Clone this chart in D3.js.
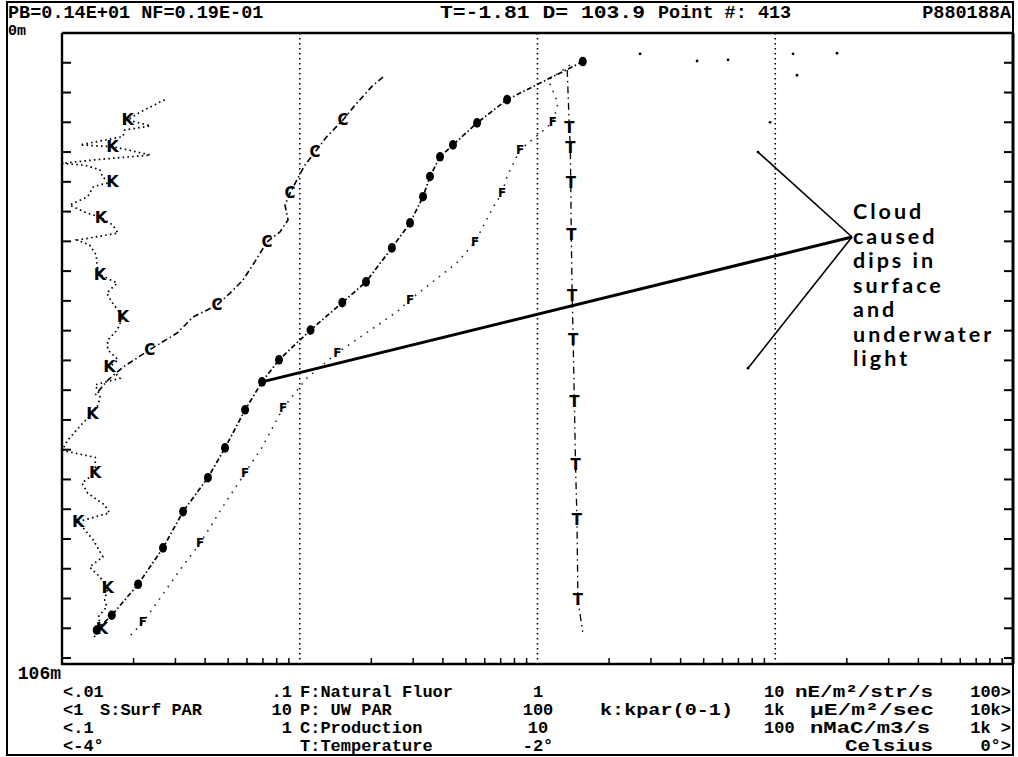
<!DOCTYPE html>
<html>
<head>
<meta charset="utf-8">
<script src="https://cdn.jsdelivr.net/npm/d3@7"></script>
<style>
  body { margin: 0; background: #fff; }
  svg { display: block; }
  .mono { font-family: "Liberation Mono", "DejaVu Sans Mono", monospace; font-weight: bold; fill: #000; }
  .note { font-family: Lato, "Noto Sans", sans-serif; font-weight: 700; fill: #000; }
  .mark { font-family: "DejaVu Sans", sans-serif; font-weight: bold; fill: #000; }
</style>
</head>
<body>
<svg id="chart" width="1018" height="757"></svg>
<script>
// ---- profile data (depth in m) ----
// P: underwater PAR, µE/m²/s
const pDepth = [4.8, 11.2, 15.1, 18.8, 20.8, 24.1, 27.5, 31.9, 36.1, 41.8, 45.3, 49.9, 54.9, 58.6, 63.3, 69.7, 74.7, 80.4, 86.5, 92.6, 97.8, 100.3];
const pPar   = [155, 74.5, 55.7, 44.1, 38.9, 35.3, 33.0, 29.1, 24.4, 19.0, 15.1, 11.1, 8.18, 6.94, 5.89, 4.85, 4.11, 3.23, 2.66, 2.09, 1.62, 1.40];

// F: natural fluorescence, nE/m²/str/s
const fDepth = [5.4, 7.9, 11.8, 15.0, 17.2, 19.6, 24.1, 26.9, 29.3, 35.1, 38.6, 44.8, 46.8, 50.3, 53.7, 58.0, 63.0, 69.6, 73.9, 79.0, 85.7, 89.7, 99.0, 101.6];
const fNat   = [1.37, 1.11, 1.22, 1.16, 1.00, 0.844, 0.745, 0.709, 0.650, 0.546, 0.458, 0.291, 0.257, 0.192, 0.144, 0.107, 0.0851, 0.0694, 0.0589, 0.0485, 0.0381, 0.0320, 0.0219, 0.019];
const fMarkDepth = [15.0, 19.6, 26.9, 35.1, 44.8, 53.7, 63.0, 73.9, 85.7, 99.0];

// C: production, nMaC/m³/s
const cDepth = [7.4, 8.8, 12.1, 14.6, 17.4, 20.0, 22.2, 24.3, 26.9, 28.9, 31.4, 33.4, 35.1, 38.4, 41.5, 43.7, 45.7, 47.7, 50.4, 53.2, 56.1, 58.3, 60.8];
const cProd  = [2.24, 2.03, 1.71, 1.52, 1.30, 1.16, 1.05, 0.984, 0.910, 0.867, 0.893, 0.826, 0.728, 0.648, 0.577, 0.509, 0.449, 0.356, 0.305, 0.234, 0.181, 0.156, 0.138];
const cMarkDepth = [14.6, 20.0, 26.9, 35.1, 45.7, 53.2];

// K: kpar (0-1)
const kDepth = [11.2, 13.3, 14.6, 15.6, 16.3, 17.4, 18.8, 19.1, 19.6, 20.5, 21.3, 21.9, 22.2, 23.0, 24.3, 25.0, 25.8, 27.5, 28.9, 30.1, 31.0, 32.2, 33.6, 34.8, 35.6, 37.3, 39.3, 40.6, 42.0, 43.7, 45.3, 47.7, 49.9, 51.6, 53.2, 54.9, 56.1, 58.0, 59.1, 61.1, 62.5, 63.9, 65.5, 68.4, 70.1, 71.3, 73.9, 75.6, 77.3, 79.3, 80.6, 82.1, 85.2, 88.0, 89.7, 91.4, 93.2, 95.2, 96.4, 98.1, 100.0, 101.6];
const kPar   = [0.108, 0.082, 0.069, 0.093, 0.066, 0.064, 0.019, 0.053, 0.068, 0.093, 0.035, 0.000, 0.024, 0.040, 0.043, 0.053, 0.033, 0.027, 0.008, 0.024, 0.041, 0.053, 0.059, 0.016, 0.029, 0.036, 0.037, 0.040, 0.058, 0.047, 0.053, 0.064, 0.058, 0.048, 0.048, 0.059, 0.050, 0.061, 0.035, 0.040, 0.038, 0.032, 0.022, 0.006, 0.000, 0.035, 0.035, 0.021, 0.027, 0.045, 0.050, 0.017, 0.033, 0.043, 0.029, 0.040, 0.048, 0.045, 0.047, 0.038, 0.042, 0.033];
const kMarkDepth = [14.6, 19.1, 25.0, 31.0, 40.6, 47.7, 56.1, 63.9, 73.9, 82.1, 93.2, 100.0];

// T: temperature, °C
const tDepth = [6.2, 16.0, 19.3, 25.2, 33.9, 44.2, 51.6, 62.0, 72.5, 81.8, 95.2, 100.6];
const tCel   = [-1.875, -1.866, -1.862, -1.860, -1.858, -1.854, -1.850, -1.845, -1.840, -1.834, -1.830, -1.81];
const tMarkDepth = [16.0, 19.3, 25.2, 33.9, 44.2, 51.6, 62.0, 72.5, 81.8, 95.2];

// S: surface PAR samples, µE/m²/s
const sDepth = [3.4, 3.5, 3.5, 4.5, 4.7, 7.1, 15.0, 20.0, 56.3];
const sPar   = [1819, 1188, 270, 633, 469, 1234, 951, 846, 768];

// depth ticks and scale labels
const depthTicks = [5, 10, 15, 20, 25, 30, 35, 40, 45, 50, 55, 60, 65, 70, 75, 80, 85, 90, 95, 100, 105];
const depthLabels = ["0m", "106m"];
const fluorLabels = ["<.01", ".1", "1", "10", "100>"];
const parLabels   = ["<1", "10", "100", "1k", "10k>"];
const prodLabels  = ["<.1", "1", "10", "100", "1k >"];
const tempLabels  = ["<-4°", "", "-2°", "", "0°>"];
const seriesNames = ["F:Natural Fluor", "P: UW PAR", "C:Production", "T:Temperature"];
const unitNames   = ["nE/m²/str/s", "µE/m²/sec", "nMaC/m3/s", "Celsius"];
const surfName = "S:Surf PAR";
const kName = "k:kpar(0-1)";
const header = ["PB=0.14E+01 NF=0.19E-01", "T=-1.81 D= 103.9", "Point #: 413", "P880188A"];
const noteLines = ["Cloud", "caused", "dips in", "surface", "and", "underwater", "light"];

// ---- layout ----
const svg = d3.select("#chart");
const L = 62, R = 1013, T = 33, B = 664;

const y  = d3.scaleLinear().domain([0, 106]).range([T, B]);
const xF = d3.scaleLog().domain([0.01, 100]).range([L, R]);
const xP = d3.scaleLog().domain([1, 10000]).range([L, R]);
const xC = d3.scaleLog().domain([0.1, 1000]).range([L, R]);
const xT = d3.scaleLinear().domain([-4, 0]).range([L, R]);
const xK = d3.scaleLinear().domain([0, 1]).range([L, R]);

const pair = (ds, vs) => ds.map((d, i) => ({ d, v: vs[i] }));
const P = pair(pDepth, pPar), F = pair(fDepth, fNat), C = pair(cDepth, cProd);
const K = pair(kDepth, kPar), Tm = pair(tDepth, tCel), S = pair(sDepth, sPar);

// decade grid lines (dotted)
svg.append("g").selectAll("line").data([0.1, 1, 10]).join("line")
  .attr("x1", d => xF(d)).attr("x2", d => xF(d))
  .attr("y1", T).attr("y2", B)
  .attr("stroke", "#000").attr("stroke-width", 1.6)
  .attr("stroke-dasharray", "1.6 3.4");

// profile lines
function profile(data, xs, dash, width, color) {
  svg.append("path").datum(data)
    .attr("fill", "none").attr("stroke", color || "#000")
    .attr("stroke-width", width).attr("stroke-dasharray", dash)
    .attr("d", d3.line().x(p => xs(p.v)).y(p => y(p.d)));
}
profile(K, xK, "1.6 3.2", 1.7);
profile(C, xC, "6 3 1.5 3", 1.6);
profile(F, xF, "1.6 6", 1.5, "#222");
profile(P, xP, "5 2.5 1.5 2.5", 1.7);
profile(Tm, xT, "7 4 1.5 4", 1.3);

// markers
function letters(data, xs, marks, ch, size, color) {
  svg.append("g").selectAll("text")
    .data(data.filter(p => marks.includes(p.d))).join("text")
    .attr("class", "mark")
    .attr("x", p => xs(p.v)).attr("y", p => y(p.d))
    .attr("text-anchor", "middle").attr("dominant-baseline", "central")
    .attr("font-size", size).attr("fill", color || "#000")
    .text(ch);
}
letters(K, xK, kMarkDepth, "K", 16);
letters(C, xC, cMarkDepth, "C", 15);
letters(F, xF, fMarkDepth, "F", 12, "#222");
letters(Tm, xT, tMarkDepth, "T", 15);

svg.append("g").selectAll("ellipse").data(P).join("ellipse")
  .attr("cx", p => xP(p.v)).attr("cy", p => y(p.d))
  .attr("rx", 4).attr("ry", 4.8)
  .attr("fill", "#000");

svg.append("g").selectAll("circle").data(S).join("circle")
  .attr("cx", p => xP(p.v)).attr("cy", p => y(p.d))
  .attr("r", 1.4).attr("fill", "#000");

// frame and plot box
svg.append("rect").attr("x", 7).attr("y", 2).attr("width", R - 7).attr("height", 753)
  .attr("fill", "none").attr("stroke", "#000").attr("stroke-width", 2);
svg.append("path")
  .attr("d", `M${L},${T}H${R}M${L},${T}V${B}H${R}`)
  .attr("fill", "none").attr("stroke", "#000").attr("stroke-width", 2.4);
svg.append("line").attr("x1", R).attr("x2", R).attr("y1", T).attr("y2", B)
  .attr("stroke", "#000").attr("stroke-width", 3);

// depth ticks, both sides pointing inward
svg.append("g").selectAll("line").data(depthTicks).join("line")
  .attr("x1", L).attr("x2", L + 9).attr("y1", d => y(d)).attr("y2", d => y(d))
  .attr("stroke", "#000").attr("stroke-width", 2);
svg.append("g").selectAll("line").data(depthTicks).join("line")
  .attr("x1", R - 9).attr("x2", R).attr("y1", d => y(d)).attr("y2", d => y(d))
  .attr("stroke", "#000").attr("stroke-width", 2);

// log minor ticks along the bottom
const minor = [];
[0.01, 0.1, 1, 10].forEach(dec => { for (let n = 2; n <= 9; n++) minor.push(n * dec); });
svg.append("g").selectAll("line").data(minor).join("line")
  .attr("x1", d => xF(d)).attr("x2", d => xF(d))
  .attr("y1", B).attr("y2", B - 6)
  .attr("stroke", "#000").attr("stroke-width", 1.5);

// annotation: leader lines from the label to the dips
const anchor = [852, 237];
const dipP = P[pDepth.indexOf(58.6)];
svg.append("line")
  .attr("x1", xP(dipP.v)).attr("y1", y(dipP.d))
  .attr("x2", anchor[0]).attr("y2", anchor[1])
  .attr("stroke", "#000").attr("stroke-width", 3);
[S[7], S[8]].forEach(s => {
  svg.append("line")
    .attr("x1", xP(s.v)).attr("y1", y(s.d))
    .attr("x2", anchor[0]).attr("y2", anchor[1])
    .attr("stroke", "#000").attr("stroke-width", 1.6);
});
svg.append("g").selectAll("text").data(noteLines).join("text")
  .attr("class", "note")
  .attr("x", 853).attr("y", (d, i) => 219 + i * 24.5)
  .attr("font-size", 21.5).attr("letter-spacing", 3)
  .text(d => d);

// text helper (monospace screen font)
function mono(str, x, yy, size, anchor, len) {
  const t = svg.append("text").attr("class", "mono")
    .attr("x", x).attr("y", yy).attr("font-size", size)
    .attr("text-anchor", anchor || "start")
    .attr("xml:space", "preserve")
    .text(str);
  if (len) t.attr("textLength", len).attr("lengthAdjust", "spacingAndGlyphs");
}
// header line
mono(header[0], 8, 18, 18.5);
mono(header[1], 440, 18, 18.5, "start", 205);
mono(header[2], 658, 18, 18.5);
mono(header[3], 1011, 18, 18.5, "end");
mono(depthLabels[0], 8, 35, 15);
mono(depthLabels[1], 61, 679, 18, "end");

// scale legend rows under the plot
const rowY = [697, 715, 733, 751];
const rows = [fluorLabels, parLabels, prodLabels, tempLabels];
const fs = 17;
rows.forEach((labs, r) => {
  mono(labs[0], 63, rowY[r], fs);
  mono(labs[1], 292, rowY[r], fs, "end");
  mono(seriesNames[r], 300, rowY[r], fs);
  mono(labs[2], 538, rowY[r], fs, "middle");
  mono(labs[3], 764, rowY[r], fs);
  mono(labs[4], 1011, rowY[r], fs, "end");
});
mono(surfName, 100, rowY[1], fs);
mono(kName, 600, rowY[1], fs, "start", 133);
mono(unitNames[0], 795, rowY[0], fs, "start", 138);
mono(unitNames[1], 810, rowY[1], fs, "start", 124);
mono(unitNames[2], 810, rowY[2], fs, "start", 120);
mono(unitNames[3], 845, rowY[3], fs, "start", 88);
</script>
</body>
</html>
